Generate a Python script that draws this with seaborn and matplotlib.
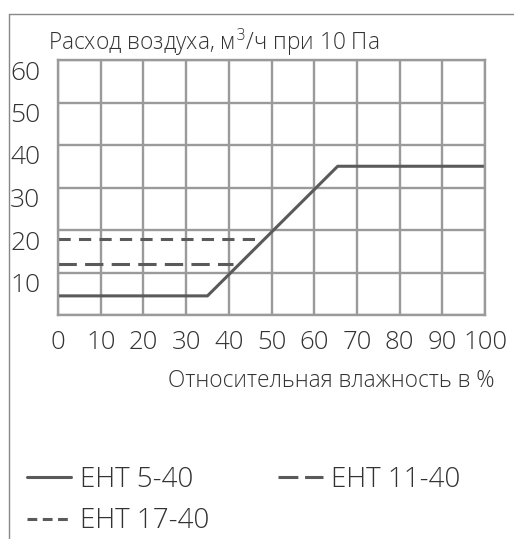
import numpy as np
import matplotlib
matplotlib.use("Agg")
import matplotlib.pyplot as plt
import matplotlib.transforms as mtransforms
from matplotlib.lines import Line2D
import seaborn as sns
import pandas as pd

# series
x_5_40 = [0, 35, 65.5, 100]
y_5_40 = [4.5, 4.5, 35, 35]
x_11_40 = [0, 41]
y_11_40 = [12, 12]
x_17_40 = [0, 47]
y_17_40 = [18, 18]
series_names = ["ЕНТ 5-40", "ЕНТ 11-40", "ЕНТ 17-40"]

x_ticks = [0, 10, 20, 30, 40, 50, 60, 70, 80, 90, 100]
y_ticks = [10, 20, 30, 40, 50, 60]

GRID = "#9a9a9a"
LINE = "#5a5a5a"
FONT = ["Open Sans", "DejaVu Sans"]

sns.set_theme(style="white")
plt.rcParams["font.family"] = FONT
plt.rcParams["font.weight"] = "light"

df = pd.concat([
    pd.DataFrame({"x": x_5_40, "y": y_5_40, "s": series_names[0]}),
    pd.DataFrame({"x": x_11_40, "y": y_11_40, "s": series_names[1]}),
    pd.DataFrame({"x": x_17_40, "y": y_17_40, "s": series_names[2]}),
])

fig = plt.figure(figsize=(5.14, 5.39), dpi=100)
ax = fig.add_axes([58/514, 1-315/539, (485-58)/514, (315-60)/539])

dashes = {series_names[0]: "", series_names[1]: (6, 2.7), series_names[2]: (4, 2.7)}
sns.lineplot(data=df, x="x", y="y", hue="s", style="s", dashes=dashes,
             palette=[LINE]*3, linewidth=2.2, ax=ax, legend=False, sort=False,
             estimator=None)

ax.set_xlim(0, 100)
ax.set_ylim(0, 60)
ax.set_xticks(x_ticks)
ax.set_yticks([0] + y_ticks)
ax.set_xticklabels([str(v) for v in x_ticks], fontsize=18.5)
ax.set_yticklabels([""] + [str(v) for v in y_ticks], fontsize=19)
ax.grid(True, color=GRID, linewidth=1.7)
ax.set_axisbelow(True)
for sp in ax.spines.values():
    sp.set_color(GRID)
    sp.set_linewidth(1.7)
ax.tick_params(length=0)
ax.tick_params(axis="x", pad=11, colors="#333333")
ax.tick_params(axis="y", pad=34.5, colors="#333333")
shift = mtransforms.ScaledTranslation(0, -10/100, fig.dpi_scale_trans)
for lab in ax.get_yticklabels():
    lab.set_horizontalalignment("left")
    lab.set_transform(lab.get_transform() + shift)
ax.set_xlabel("")
ax.set_ylabel("")

fig.text(48/514, 1-42/539, "Расход воздуха, м$^3$/ч при 10 Па", fontsize=16.3,
         color="#333333", va="center", ha="left")
fig.text(495/514, 1-381/539, "Относительная влажность в %", fontsize=16.3,
         color="#333333", va="center", ha="right")

# outer frame (top and left edges)
fig.add_artist(Line2D([9/514, 9/514], [0, 1-14/539], transform=fig.transFigure,
                      color="#888888", linewidth=1))
fig.add_artist(Line2D([9/514, 1], [1-14/539, 1-14/539], transform=fig.transFigure,
                      color="#888888", linewidth=1))

handles = [
    Line2D([], [], color=LINE, linewidth=2.2),
    Line2D([], [], color=LINE, linewidth=2.2, dashes=(3.2, 1.8)),
    Line2D([], [], color=LINE, linewidth=2.2, dashes=(6.5, 2.2)),
]
labels = [series_names[0], series_names[2], series_names[1]]
fig.legend(handles, labels, loc="upper left", bbox_to_anchor=(27/514, 1-466/539),
           ncol=2, frameon=False, fontsize=20, handlelength=1.6, handletextpad=0.3,
           columnspacing=2.5, labelspacing=0.48, borderpad=0, borderaxespad=0,
           labelcolor="#333333")

fig.savefig("out.png", dpi=100)
